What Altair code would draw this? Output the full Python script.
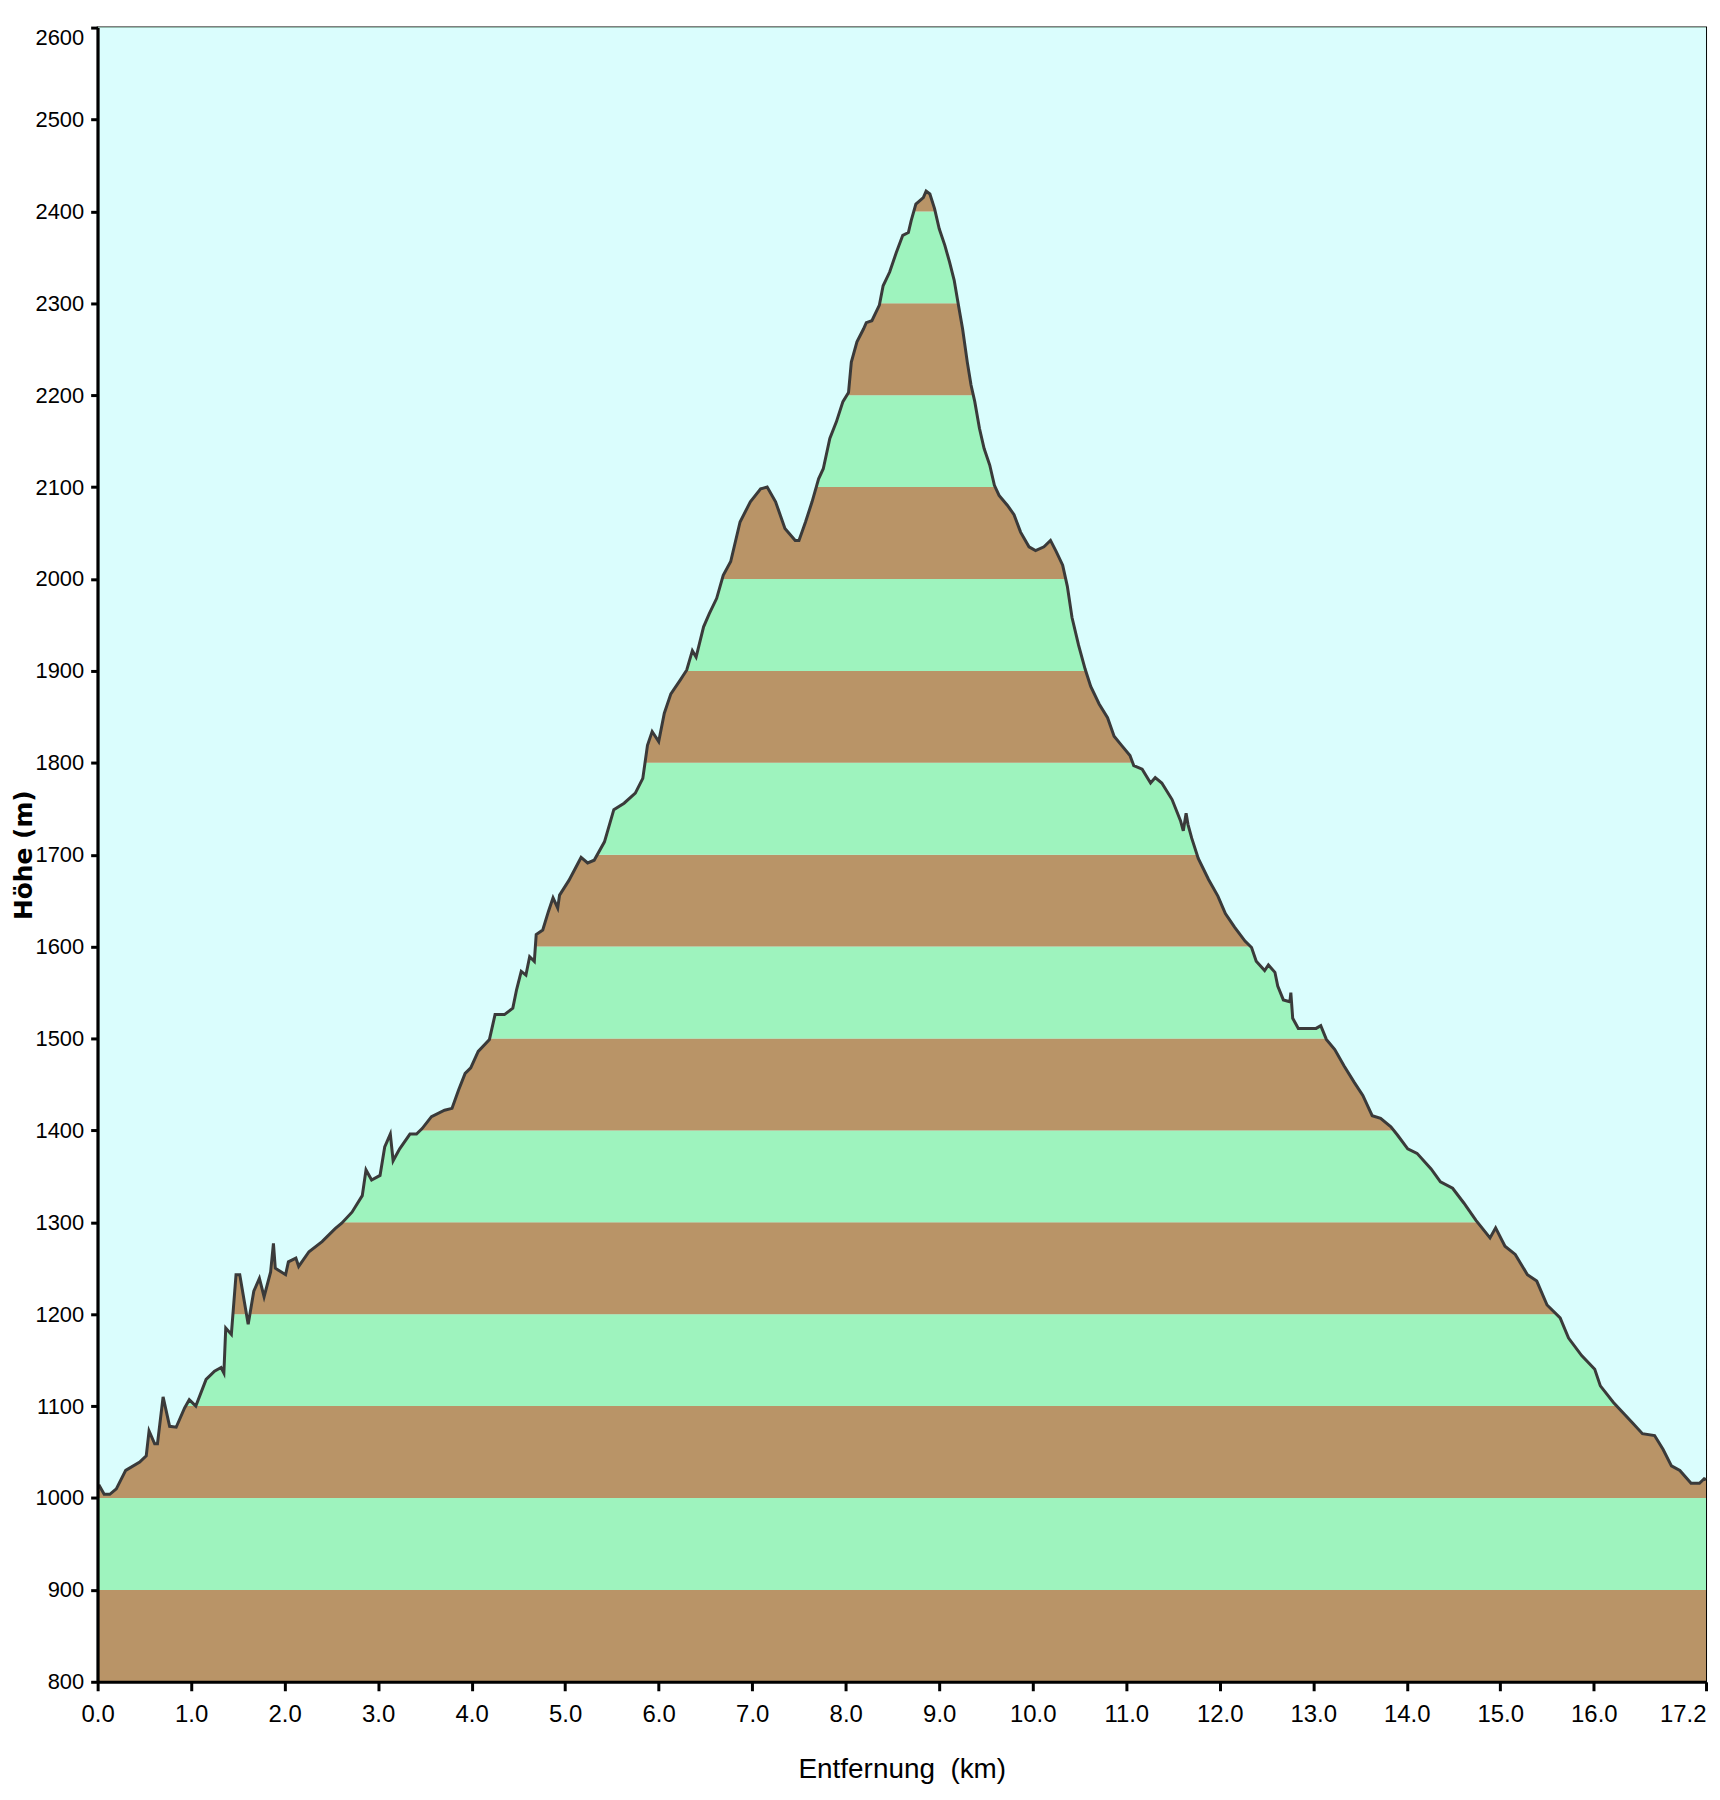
import altair as alt
import pandas as pd

km = [0.00, 0.02, 0.07, 0.13, 0.20, 0.30, 0.45, 0.52, 0.55, 0.61, 0.64, 0.70, 0.77, 0.84, 0.93, 0.98,
      1.05, 1.16, 1.25, 1.32, 1.35, 1.37, 1.43, 1.48, 1.52, 1.61, 1.67, 1.73, 1.78, 1.85, 1.88, 1.90,
      2.01, 2.04, 2.12, 2.15, 2.26, 2.40, 2.54, 2.61, 2.72, 2.83, 2.87, 2.93, 3.02, 3.07, 3.13, 3.16,
      3.23, 3.34, 3.41, 3.47, 3.57, 3.71, 3.79, 3.86, 3.93, 3.99, 4.07, 4.19, 4.25, 4.35, 4.44, 4.48,
      4.53, 4.58, 4.62, 4.67, 4.69, 4.76, 4.82, 4.87, 4.92, 4.94, 5.04, 5.17, 5.24, 5.31, 5.42, 5.52,
      5.63, 5.75, 5.83, 5.88, 5.93, 6.00, 6.06, 6.13, 6.23, 6.30, 6.36, 6.40, 6.48, 6.54, 6.62, 6.69,
      6.77, 6.87, 6.98, 7.09, 7.16, 7.25, 7.35, 7.46, 7.50, 7.57, 7.64, 7.71, 7.76, 7.83, 7.90, 7.97,
      8.03, 8.06, 8.12, 8.19, 8.22, 8.28, 8.36, 8.40, 8.47, 8.54, 8.61, 8.67, 8.70, 8.75, 8.83, 8.86,
      8.90, 8.95, 9.00, 9.06, 9.11, 9.16, 9.20, 9.25, 9.30, 9.34, 9.38, 9.43, 9.48, 9.54, 9.59, 9.64,
      9.73, 9.80, 9.87, 9.96, 10.03, 10.12, 10.19, 10.25, 10.32, 10.37, 10.42, 10.49, 10.56, 10.62,
      10.71, 10.80, 10.87, 10.95, 11.04, 11.08, 11.17, 11.26, 11.31, 11.38, 11.49, 11.58, 11.61, 11.64,
      11.66, 11.70, 11.77, 11.88, 11.98, 12.06, 12.16, 12.27, 12.34, 12.39, 12.48, 12.52, 12.59, 12.62,
      12.68, 12.75, 12.76, 12.78, 12.84, 13.03, 13.08, 13.14, 13.23, 13.33, 13.44, 13.53, 13.63, 13.72,
      13.83, 13.90, 14.01, 14.11, 14.26, 14.36, 14.49, 14.61, 14.74, 14.89, 14.95, 15.05, 15.16, 15.29,
      15.39, 15.50, 15.64, 15.73, 15.87, 16.01, 16.07, 16.21, 16.31, 16.42, 16.52, 16.65, 16.74, 16.83,
      16.92, 17.04, 17.13, 17.18, 17.20]
elev = [1012, 1013, 1004, 1004, 1010, 1030, 1039, 1046, 1073, 1059, 1059, 1110, 1078, 1077, 1098, 1107,
        1100, 1129, 1138, 1142, 1136, 1185, 1178, 1243, 1243, 1189, 1225, 1239, 1219, 1246, 1277, 1250,
        1243, 1257, 1261, 1252, 1268, 1279, 1293, 1299, 1311, 1329, 1357, 1346, 1351, 1382, 1396, 1367,
        1380, 1396, 1396, 1402, 1415, 1422, 1424, 1444, 1462, 1468, 1486, 1499, 1526, 1526, 1533, 1553,
        1573, 1569, 1589, 1584, 1613, 1618, 1638, 1653, 1642, 1656, 1672, 1697, 1691, 1694, 1714, 1749,
        1756, 1767, 1783, 1819, 1834, 1823, 1854, 1875, 1890, 1901, 1922, 1915, 1948, 1962, 1979, 2004,
        2019, 2062, 2084, 2098, 2100, 2084, 2055, 2042, 2042, 2062, 2084, 2109, 2120, 2153, 2171, 2193,
        2203, 2236, 2258, 2272, 2279, 2281, 2298, 2319, 2334, 2355, 2374, 2377, 2390, 2408, 2415, 2422,
        2419, 2403, 2381, 2363, 2345, 2325, 2301, 2272, 2236, 2211, 2193, 2164, 2142, 2124, 2102, 2091,
        2080, 2070, 2051, 2035, 2031, 2035, 2042, 2030, 2015, 1992, 1958, 1928, 1902, 1883,
        1864, 1849, 1829, 1819, 1808, 1797, 1793, 1778, 1784, 1778, 1760, 1737, 1726, 1745,
        1733, 1718, 1696, 1673, 1655, 1636, 1621, 1606, 1599, 1584, 1574, 1580, 1572, 1557,
        1542, 1540, 1550, 1522, 1511, 1511, 1514, 1499, 1488, 1470, 1452, 1438, 1416, 1413,
        1404, 1395, 1380, 1375, 1358, 1344, 1337, 1321, 1302, 1283, 1294, 1274, 1265, 1243,
        1236, 1210, 1196, 1174, 1155, 1140, 1122, 1104, 1093, 1081, 1070, 1068, 1053, 1035,
        1030, 1016, 1016, 1021, 1020]

x_ticks = [0.0, 1.0, 2.0, 3.0, 4.0, 5.0, 6.0, 7.0, 8.0, 9.0, 10.0, 11.0, 12.0, 13.0, 14.0, 15.0, 16.0, 17.2]
y_ticks = [800, 900, 1000, 1100, 1200, 1300, 1400, 1500, 1600, 1700, 1800, 1900, 2000, 2100, 2200,
           2300, 2400, 2500, 2600]

W, H = 1615, 1661
BROWN, GREEN, SKY, LINE = "#B99467", "#9EF3BE", "#DAFDFD", "#3A3A3A"
SANS = "Liberation Sans, Arial, sans-serif"

profile = pd.DataFrame({"km": km, "elev": elev})
bands = pd.DataFrame({
    "base": y_ticks[:-1],
    "top": y_ticks[1:],
    "kind": ["brown" if i % 2 == 0 else "green" for i in range(len(y_ticks) - 1)],
})

x_scale = alt.Scale(domain=[0, 17.2], nice=False, zero=False)
y_scale = alt.Scale(domain=[800, 2600], nice=False, zero=False)

x_axis = alt.Axis(
    values=x_ticks, format=".1f", title="Entfernung\u00a0\u00a0(km)",
    labelFont=SANS, labelFontSize=24, labelColor="#000", labelPadding=12,
    labelAlign={"condition": {"test": "datum.value >= 17.1", "value": "right"}, "value": "center"},
    tickSize=9, tickWidth=3, tickColor="#000",
    domainColor="#000", domainWidth=3, grid=False, zindex=1,
    titleFont=SANS, titleFontSize=28, titleFontWeight="normal", titleColor="#000",
    titleY=88, titleBaseline="middle",
)
y_axis = alt.Axis(
    values=y_ticks, format="d", title="Höhe (m)",
    labelFont=SANS, labelFontSize=22, labelColor="#000", labelPadding=7,
    labelBaseline={"condition": {"test": "datum.value >= 2600", "value": "top"}, "value": "middle"},
    tickSize=7, tickWidth=3, tickColor="#000",
    domainColor="#000", domainWidth=3, grid=False, zindex=1,
    titleFont="DejaVu Sans, Verdana, sans-serif", titleFontSize=25, titleFontWeight="bold",
    titleColor="#000", titleX=-74, titleY=H / 2, titleAngle=270, titleBaseline="middle",
    titleAlign="center",
)

band_layer = alt.Chart(bands).mark_rect().encode(
    x=alt.value(0), x2=alt.value(W),
    y=alt.Y("base:Q", scale=y_scale, axis=y_axis),
    y2="top:Q",
    color=alt.Color("kind:N", scale=alt.Scale(domain=["brown", "green"], range=[BROWN, GREEN]),
                    legend=None),
)

sky_layer = alt.Chart(profile).mark_area(color=SKY, opacity=1).encode(
    x=alt.X("km:Q", scale=x_scale, axis=x_axis),
    y=alt.Y("elev:Q", scale=y_scale, axis=y_axis),
    y2=alt.datum(2600),
)

line_layer = alt.Chart(profile).mark_line(color=LINE, strokeWidth=3).encode(
    x=alt.X("km:Q", scale=x_scale, axis=x_axis),
    y=alt.Y("elev:Q", scale=y_scale, axis=y_axis),
)

chart = alt.layer(band_layer, sky_layer, line_layer).properties(
    width=W, height=H,
    autosize=alt.AutoSizeParams(type="none"),
    padding={"left": 90, "top": 16, "right": 6, "bottom": 110},
    background="white",
).configure_view(stroke="#000", strokeWidth=2, fill=SKY)

chart.save("out.html", embed_options={"renderer": "svg", "actions": False})
